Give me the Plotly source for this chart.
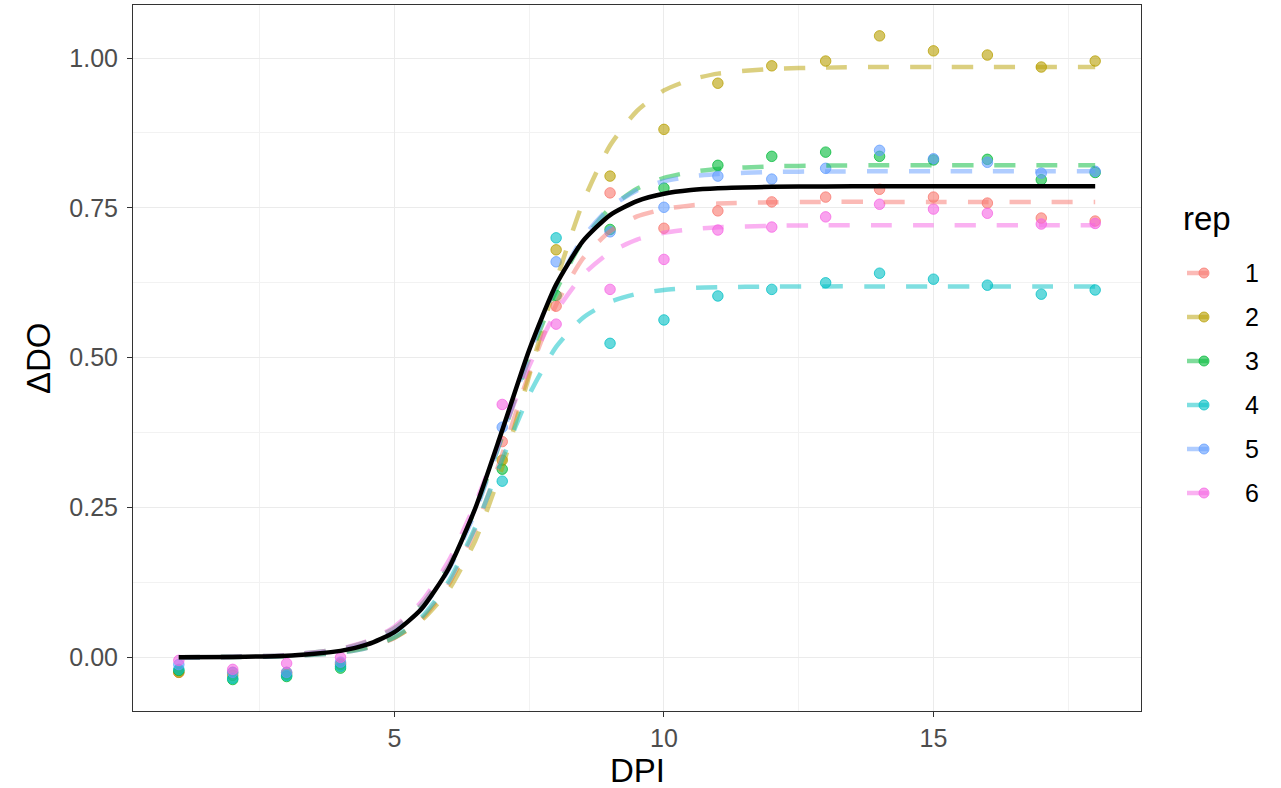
import plotly.graph_objects as go

# ---------------- data ----------------
dpi_obs = [1, 2, 3, 4, 7, 8, 9, 10, 11, 12, 13, 14, 15, 16, 17, 18]
obs = {
    "1": [-0.025, -0.025, -0.025, -0.010, 0.360, 0.586, 0.775, 0.716, 0.745, 0.760, 0.768, 0.781, 0.768, 0.758, 0.733, 0.728],
    "2": [-0.025, -0.030, -0.028, -0.012, 0.329, 0.680, 0.803, 0.881, 0.958, 0.987, 0.995, 1.037, 1.012, 1.005, 0.985, 0.995],
    "3": [-0.022, -0.037, -0.032, -0.018, 0.314, 0.604, 0.714, 0.783, 0.821, 0.836, 0.843, 0.836, 0.830, 0.831, 0.797, 0.809],
    "4": [-0.020, -0.035, -0.030, -0.015, 0.294, 0.700, 0.524, 0.563, 0.603, 0.614, 0.625, 0.641, 0.631, 0.621, 0.606, 0.613],
    "5": [-0.012, -0.025, -0.025, -0.008, 0.384, 0.660, 0.710, 0.751, 0.803, 0.798, 0.816, 0.846, 0.832, 0.826, 0.808, 0.811],
    "6": [-0.005, -0.020, -0.010, 0.000, 0.422, 0.556, 0.614, 0.664, 0.713, 0.718, 0.735, 0.756, 0.748, 0.741, 0.723, 0.724],
}

dpi_fit = [1, 2, 3, 4, 4.5, 5, 5.5, 6, 6.5, 7, 7.5, 8, 8.5, 9, 9.5, 10, 10.5, 11, 12, 13, 14, 15, 16, 17, 18]
fit = {
    "1": [0.0001, 0.0004, 0.0018, 0.0078, 0.016, 0.0322, 0.0636, 0.1207, 0.2131, 0.3388, 0.4744, 0.5884, 0.666, 0.711, 0.7357, 0.748, 0.7541, 0.7572, 0.7593, 0.760, 0.760, 0.760, 0.760, 0.760, 0.760],
    "2": [0.0002, 0.0007, 0.0025, 0.0090, 0.0174, 0.0327, 0.0615, 0.1117, 0.195, 0.317, 0.470, 0.6275, 0.760, 0.854, 0.912, 0.946, 0.964, 0.974, 0.982, 0.984, 0.985, 0.985, 0.985, 0.985, 0.985],
    "3": [0.0003, 0.0011, 0.0040, 0.0141, 0.0264, 0.0486, 0.0876, 0.1516, 0.2467, 0.3686, 0.4984, 0.612, 0.6958, 0.7498, 0.782, 0.800, 0.8098, 0.815, 0.8193, 0.8205, 0.821, 0.821, 0.821, 0.821, 0.821],
    "4": [0.0001, 0.0004, 0.0018, 0.0078, 0.0162, 0.0334, 0.0666, 0.1259, 0.2172, 0.3304, 0.4382, 0.518, 0.5668, 0.5932, 0.6065, 0.6131, 0.6162, 0.6177, 0.6187, 0.619, 0.619, 0.619, 0.619, 0.619, 0.619],
    "5": [0.0002, 0.0008, 0.0031, 0.0117, 0.0227, 0.0433, 0.0809, 0.145, 0.2427, 0.370, 0.5047, 0.6196, 0.7008, 0.7508, 0.7792, 0.7945, 0.8025, 0.8066, 0.8099, 0.8107, 0.811, 0.811, 0.811, 0.811, 0.811],
    "6": [0.0003, 0.0010, 0.0039, 0.0144, 0.0273, 0.0511, 0.0927, 0.160, 0.2565, 0.3724, 0.486, 0.5767, 0.6384, 0.6759, 0.697, 0.7084, 0.7144, 0.7176, 0.7201, 0.7208, 0.721, 0.721, 0.721, 0.721, 0.721],
}
fit_overall = [0.0002, 0.0007, 0.0027, 0.0108, 0.0215, 0.042, 0.0806, 0.147, 0.2488, 0.379, 0.5129, 0.622, 0.6948, 0.738, 0.7613, 0.7736, 0.7798, 0.7829, 0.7852, 0.7858, 0.786, 0.786, 0.786, 0.786, 0.786]

reps = ["1", "2", "3", "4", "5", "6"]
colors = {"1": (248, 118, 109), "2": (183, 159, 0), "3": (0, 186, 56),
          "4": (0, 191, 196), "5": (97, 156, 255), "6": (245, 100, 227)}

x_ticks = [5, 10, 15]
y_ticks = [0, 0.25, 0.5, 0.75, 1.0]
y_tick_text = ["0.00", "0.25", "0.50", "0.75", "1.00"]

FONT = "Liberation Sans, Arial, sans-serif"


def rgba(c, a):
    return f"rgba({c[0]},{c[1]},{c[2]},{a})"


fig = go.Figure()

for r in reps:
    c = colors[r]
    fig.add_trace(go.Scatter(
        x=dpi_obs, y=obs[r], mode="markers", showlegend=False,
        marker=dict(size=10.5, color=rgba(c, 0.6), line=dict(width=1, color=rgba(c, 0.75))),
    ))

for r in reps:
    c = colors[r]
    fig.add_trace(go.Scatter(
        x=dpi_fit, y=fit[r], mode="lines", showlegend=False,
        line=dict(color=rgba(c, 0.5), width=4.5, dash="21px,21px", shape="spline", smoothing=0.6),
    ))

fig.add_trace(go.Scatter(
    x=dpi_fit, y=fit_overall, mode="lines", showlegend=False,
    line=dict(color="black", width=4.5, shape="spline", smoothing=0.6),
))

# ---------------- layout ----------------
L, R, T, B = 133, 140, 5, 77
W, H = 1281, 788
pw, ph = W - L - R, H - T - B


def px(xp):
    return (xp - L) / pw


def py(yp):
    return (H - B - yp) / ph


axis_common = dict(
    showline=True, linecolor="#333333", linewidth=1, mirror=True,
    showgrid=True, gridcolor="#EBEBEB", gridwidth=1.4,
    ticks="outside", ticklen=5, tickcolor="#333333", tickwidth=1,
    tickfont=dict(family=FONT, size=25, color="#4D4D4D"),
    zeroline=False,
)

fig.update_layout(
    width=W, height=H,
    margin=dict(l=L, r=R, t=T, b=B),
    paper_bgcolor="white", plot_bgcolor="white",
    showlegend=False,
    xaxis=dict(range=[0.15, 18.85], tickvals=x_ticks, ticktext=[str(v) for v in x_ticks],
               minor=dict(tickvals=[2.5, 7.5, 12.5, 17.5], showgrid=True, gridcolor="#F2F2F2",
                          gridwidth=0.8, ticks=""),
               **axis_common),
    yaxis=dict(range=[-0.0895, 1.0885], tickvals=y_ticks, ticktext=y_tick_text,
               ticklabelstandoff=4,
               minor=dict(tickvals=[0.125, 0.375, 0.625, 0.875], showgrid=True, gridcolor="#F2F2F2",
                          gridwidth=0.8, ticks=""),
               **axis_common),
)

annotations = [
    dict(text="DPI", x=px(637), y=py(770), xref="paper", yref="paper", showarrow=False,
         xanchor="center", yanchor="middle", font=dict(family=FONT, size=33, color="black")),
    dict(text="ΔDO", x=px(38), y=py(358), xref="paper", yref="paper", showarrow=False,
         xanchor="center", yanchor="middle", textangle=-90, font=dict(family=FONT, size=33, color="black")),
    dict(text="rep", x=px(1181), y=py(218), xref="paper", yref="paper", showarrow=False,
         xanchor="left", yanchor="middle", font=dict(family=FONT, size=33, color="black")),
]
shapes = []
leg_y0, leg_dy = 273, 44
for i, r in enumerate(reps):
    c = colors[r]
    yy = leg_y0 + i * leg_dy
    annotations.append(dict(text=r, x=px(1243), y=py(yy), xref="paper", yref="paper", showarrow=False,
                            xanchor="left", yanchor="middle", font=dict(family=FONT, size=25, color="black")))
    shapes.append(dict(type="line", xref="paper", yref="paper", x0=px(1187), x1=px(1208), y0=py(yy), y1=py(yy),
                       line=dict(color=rgba(c, 0.5), width=4.5)))
    shapes.append(dict(type="circle", xref="paper", yref="paper",
                       x0=px(1199), x1=px(1209), y0=py(yy + 5), y1=py(yy - 5),
                       fillcolor=rgba(c, 0.6), line=dict(color=rgba(c, 0.75), width=1)))

fig.update_layout(annotations=annotations, shapes=shapes)

fig.write_html("out.html")
